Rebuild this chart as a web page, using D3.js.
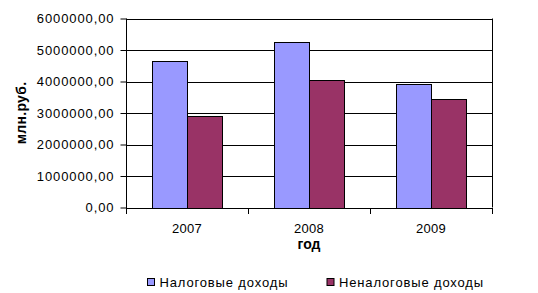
<!DOCTYPE html>
<html>
<head>
<meta charset="utf-8">
<script src="https://cdn.jsdelivr.net/npm/d3@7"></script>
<style>
  body { margin: 0; background: #fff; }
  svg { display: block; font-family: Arial, "Liberation Sans", sans-serif; }
</style>
</head>
<body>
<div id="chart"></div>
<script>
// data
const years = ["2007", "2008", "2009"];
const seriesNames = ["Налоговые доходы", "Неналоговые доходы"];
const taxIncome = [4650000, 5250000, 3910000];
const nonTaxIncome = [2890000, 4040000, 3440000];
const yTicks = [0, 1000000, 2000000, 3000000, 4000000, 5000000, 6000000];
const colors = ["#9999FF", "#993366"];

const width = 538, height = 293;
const margin = { top: 18.5, right: 46, bottom: 85.5, left: 126 };

const svg = d3.select("#chart").append("svg")
    .attr("width", width)
    .attr("height", height);

const x = d3.scaleBand()
    .domain(years)
    .range([margin.left, width - margin.right]);

// excel gap width 150%: two bars + 1.5 bar of gap per category
const barW = x.bandwidth() / 3.5;

const y = d3.scaleLinear()
    .domain([0, 6000000])
    .range([height - margin.bottom, margin.top]);

const fmt = v => d3.format(".2f")(v).replace(".", ",");

//gridlines
svg.append("g")
    .selectAll("line")
    .data(yTicks.slice(1))
    .join("line")
    .attr("x1", margin.left)
    .attr("x2", width - margin.right)
    .attr("y1", d => Math.round(y(d)) + 0.5)
    .attr("y2", d => Math.round(y(d)) + 0.5)
    .attr("stroke", "#000")
    .attr("stroke-width", 1);

//right border
svg.append("line")
    .attr("x1", width - margin.right + 0.5)
    .attr("x2", width - margin.right + 0.5)
    .attr("y1", y(6000000))
    .attr("y2", y(0))
    .attr("stroke", "#000");

//bars
const series = [taxIncome, nonTaxIncome];
series.forEach((vals, si) => {
    svg.append("g")
        .selectAll("rect")
        .data(vals)
        .join("rect")
        .attr("x", (d, i) => Math.round(x(years[i]) + barW * 0.75 + si * barW) + 0.5)
        .attr("y", d => Math.round(y(d)) + 0.5)
        .attr("width", Math.round(barW))
        .attr("height", d => Math.round(y(0)) - Math.round(y(d)))
        .attr("fill", colors[si])
        .attr("stroke", "#000")
        .attr("stroke-width", 1);
});

//y axis
const yAxis = svg.append("g")
    .attr("transform", `translate(${margin.left + 0.5},0)`)
    .call(d3.axisLeft(y).tickValues(yTicks).tickFormat(fmt).tickSize(6).tickPadding(6));
yAxis.select(".domain").attr("d", `M0,${y(6000000)}V${Math.round(y(0)) + 0.5}`);
yAxis.selectAll("text")
    .attr("font-size", 13)
    .attr("letter-spacing", 0.9)
    .attr("font-family", "Arial, 'Liberation Sans', sans-serif")
    .attr("fill", "#000");

//x axis
const xAxis = svg.append("g")
    .attr("transform", `translate(0,${Math.round(y(0)) + 0.5})`)
    .call(d3.axisBottom(x).tickSize(0).tickPadding(15));
xAxis.select(".domain").remove();
xAxis.selectAll("text")
    .attr("font-size", 13)
    .attr("letter-spacing", 0.3)
    .attr("font-family", "Arial, 'Liberation Sans', sans-serif")
    .attr("fill", "#000");
//category separators
const edges = years.map(d => x(d)).concat([x(years[years.length - 1]) + x.bandwidth()]);
svg.append("g")
    .selectAll("line")
    .data(edges)
    .join("line")
    .attr("x1", d => Math.round(d) + 0.5)
    .attr("x2", d => Math.round(d) + 0.5)
    .attr("y1", Math.round(y(0)))
    .attr("y2", Math.round(y(0)) + 6)
    .attr("stroke", "#000");
svg.append("line")
    .attr("x1", margin.left)
    .attr("x2", width - margin.right + 1)
    .attr("y1", Math.round(y(0)) + 0.5)
    .attr("y2", Math.round(y(0)) + 0.5)
    .attr("stroke", "#000");

//axis titles
svg.append("text")
    .attr("transform", `translate(26,113) rotate(-90)`)
    .attr("text-anchor", "middle")
    .attr("font-size", 14)
    .attr("font-weight", "bold")
    .attr("letter-spacing", 0.3)
    .text("млн.руб.");

svg.append("text")
    .attr("x", (margin.left + width - margin.right) / 2)
    .attr("y", 249)
    .attr("text-anchor", "middle")
    .attr("font-size", 14)
    .attr("font-weight", "bold")
    .text("год");

//legend
const legendX = [147, 326.5];
const legend = svg.append("g")
    .selectAll("g")
    .data(seriesNames)
    .join("g")
    .attr("transform", (d, i) => `translate(${legendX[i]},278)`);
legend.append("rect")
    .attr("x", 0.5).attr("y", 0.5)
    .attr("width", 7).attr("height", 7)
    .attr("fill", (d, i) => colors[i])
    .attr("stroke", "#000");
legend.append("text")
    .attr("x", 12.5)
    .attr("y", 8.5)
    .attr("font-size", 13)
    .attr("letter-spacing", 0.85)
    .text(d => d);
</script>
</body>
</html>
